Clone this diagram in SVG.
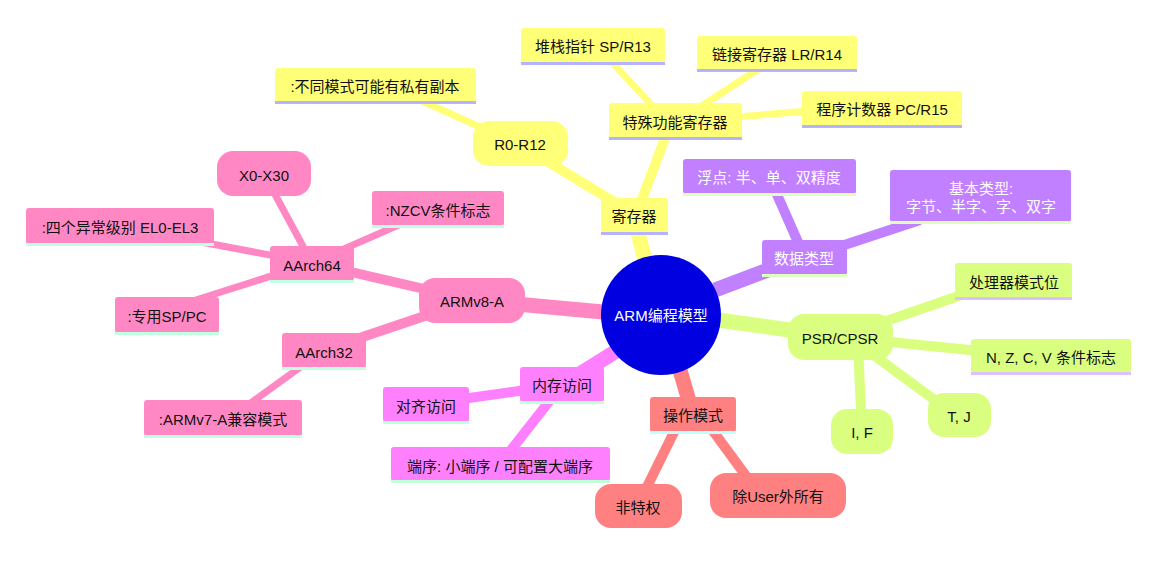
<svg xmlns="http://www.w3.org/2000/svg" width="1160" height="564" viewBox="0 0 1160 564">
<style>
text{font-family:"Liberation Sans","Noto Sans CJK SC",sans-serif;font-size:15px;text-anchor:middle;dominant-baseline:central;fill:#111}
.l{fill:none;stroke-linecap:butt}
.w1{stroke-width:15}.w2{stroke-width:10}.w3{stroke-width:7}
.y{fill:#ffff78}.yl{stroke:#ffff78}.yu{fill:#b3b3ff}
.p{fill:#c080ff}.pl{stroke:#c080ff}.pu{fill:#dfffbf}
.g{fill:#daff80}.gl{stroke:#daff80}.gu{fill:#dcc0ff}
.s{fill:#ff8080}.sl{stroke:#ff8080}.su{fill:#c0ffff}
.m{fill:#ff80ff}.ml{stroke:#ff80ff}.mu{fill:#c0ffd8}
.k{fill:#ff88c4}.kl{stroke:#ff88c4}.ku{fill:#c0ffe0}
.wt{fill:#fff}
</style>
<g id="connectors">
<line class="l w1 yl" x1="645" y1="260" x2="636" y2="225"/>
<line class="l w2 yl" x1="636" y1="215" x2="520" y2="145"/>
<line class="l w3 yl" x1="520" y1="145" x2="420" y2="100"/>
<line class="l w2 yl" x1="636" y1="215" x2="670" y2="125"/>
<line class="l w3 yl" x1="670" y1="125" x2="610" y2="60"/>
<line class="l w3 yl" x1="680" y1="120" x2="760" y2="68"/>
<line class="l w3 yl" x1="700" y1="120" x2="820" y2="110"/>
<line class="l w1 pl" x1="715" y1="290" x2="800" y2="258"/>
<line class="l w2 pl" x1="805" y1="258" x2="775" y2="190"/>
<line class="l w2 pl" x1="805" y1="258" x2="920" y2="220"/>
<line class="l w1 gl" x1="718" y1="320" x2="840" y2="337"/>
<line class="l w2 gl" x1="840" y1="337" x2="970" y2="292"/>
<line class="l w2 gl" x1="840" y1="337" x2="990" y2="352"/>
<line class="l w2 gl" x1="860" y1="345" x2="955" y2="415"/>
<line class="l w2 gl" x1="858" y1="345" x2="862" y2="432"/>
<line class="l w1 sl" x1="680" y1="370" x2="693" y2="415"/>
<line class="l w2 sl" x1="680" y1="420" x2="638" y2="505"/>
<line class="l w2 sl" x1="705" y1="420" x2="760" y2="495"/>
<line class="l w1 ml" x1="618" y1="350" x2="562" y2="385"/>
<line class="l w2 ml" x1="562" y1="385" x2="426" y2="404"/>
<line class="l w2 ml" x1="562" y1="385" x2="500" y2="464"/>
<line class="l w1 kl" x1="603" y1="312" x2="472" y2="300"/>
<line class="l w2 kl" x1="472" y1="300" x2="312" y2="263"/>
<line class="l w2 kl" x1="472" y1="300" x2="324" y2="350"/>
<line class="l w3 kl" x1="312" y1="263" x2="264" y2="174"/>
<line class="l w3 kl" x1="312" y1="263" x2="410" y2="220"/>
<line class="l w3 kl" x1="312" y1="263" x2="180" y2="238"/>
<line class="l w3 kl" x1="312" y1="263" x2="180" y2="305"/>
<line class="l w3 kl" x1="324" y1="350" x2="230" y2="418"/>
</g>
<g id="root"><circle cx="661" cy="315" r="60" fill="#0000e0"/><text x="661" y="315" class="wt">ARM编程模型</text></g>
<g id="reg"><rect class="y" x="601" y="198" width="67" height="35" rx="3"/><rect class="yu" x="601" y="232" width="67" height="3"/><text x="634" y="216">寄存器</text></g>
<g id="r0r12"><rect class="y" x="473" y="121" width="95" height="45" rx="16"/><text x="520" y="144">R0-R12</text></g>
<g id="priv"><rect class="y" x="275" y="68" width="201" height="34" rx="3"/><rect class="yu" x="275" y="101" width="201" height="3"/><text x="375" y="86">:不同模式可能有私有副本</text></g>
<g id="sfr"><rect class="y" x="609" y="103" width="133" height="35" rx="3"/><rect class="yu" x="609" y="137" width="133" height="3"/><text x="675" y="122">特殊功能寄存器</text></g>
<g id="sp"><rect class="y" x="521" y="28" width="144" height="35" rx="3"/><rect class="yu" x="521" y="62" width="144" height="3"/><text x="593" y="46">堆栈指针 SP/R13</text></g>
<g id="lr"><rect class="y" x="697" y="36" width="160" height="34" rx="3"/><rect class="yu" x="697" y="69" width="160" height="3"/><text x="777" y="54">链接寄存器 LR/R14</text></g>
<g id="pc"><rect class="y" x="802" y="91" width="160" height="35" rx="3"/><rect class="yu" x="802" y="125" width="160" height="3"/><text x="882" y="109">程序计数器 PC/R15</text></g>
<g id="dtype"><rect class="p" x="762" y="240" width="85" height="35" rx="3"/><rect class="pu" x="762" y="274" width="85" height="3"/><text x="804" y="258" class="wt">数据类型</text></g>
<g id="float"><rect class="p" x="683" y="159" width="173" height="35" rx="3"/><rect class="pu" x="683" y="193" width="173" height="3"/><text x="769" y="177" class="wt">浮点: 半、单、双精度</text></g>
<g id="basic"><rect class="p" x="890" y="170" width="181" height="52" rx="3"/><rect class="pu" x="890" y="221" width="181" height="3"/><text x="981" y="188" class="wt">基本类型:</text><text x="981" y="206" class="wt">字节、半字、字、双字</text></g>
<g id="psr"><rect class="g" x="788" y="314" width="105" height="46" rx="16"/><text x="840" y="338">PSR/CPSR</text></g>
<g id="mode"><rect class="g" x="955" y="263" width="117" height="35" rx="3"/><rect class="gu" x="955" y="297" width="117" height="3"/><text x="1014" y="282">处理器模式位</text></g>
<g id="nzcv"><rect class="g" x="971" y="339" width="160" height="34" rx="3"/><rect class="gu" x="971" y="372" width="160" height="3"/><text x="1051" y="357">N, Z, C, V 条件标志</text></g>
<g id="tj"><rect class="g" x="928" y="393" width="63" height="44" rx="16"/><text x="959" y="416">T, J</text></g>
<g id="if"><rect class="g" x="831" y="409" width="62" height="45" rx="16"/><text x="862" y="432">I, F</text></g>
<g id="opmode"><rect class="s" x="650" y="397" width="86" height="35" rx="3"/><rect class="su" x="650" y="431" width="86" height="3"/><text x="693" y="415">操作模式</text></g>
<g id="unpriv"><rect class="s" x="595" y="484" width="87" height="44" rx="16"/><text x="638" y="507">非特权</text></g>
<g id="alluser"><rect class="s" x="710" y="473" width="136" height="45" rx="16"/><text x="778" y="496">除User外所有</text></g>
<g id="mem"><rect class="m" x="520" y="367" width="84" height="35" rx="3"/><rect class="mu" x="520" y="401" width="84" height="3"/><text x="562" y="385">内存访问</text></g>
<g id="align"><rect class="m" x="383" y="387" width="86" height="35" rx="3"/><rect class="mu" x="383" y="421" width="86" height="3"/><text x="426" y="406">对齐访问</text></g>
<g id="endian"><rect class="m" x="391" y="447" width="219" height="34" rx="3"/><rect class="mu" x="391" y="480" width="219" height="3"/><text x="500" y="466">端序: 小端序 / 可配置大端序</text></g>
<g id="armv8"><rect class="k" x="419" y="278" width="106" height="45" rx="16"/><text x="472" y="301">ARMv8-A</text></g>
<g id="a64"><rect class="k" x="270" y="246" width="84" height="35" rx="3"/><rect class="ku" x="270" y="280" width="84" height="3"/><text x="312" y="265">AArch64</text></g>
<g id="x0"><rect class="k" x="217" y="151" width="94" height="45" rx="16"/><text x="264" y="175">X0-X30</text></g>
<g id="nzcvf"><rect class="k" x="372" y="191" width="132" height="35" rx="3"/><rect class="ku" x="372" y="225" width="132" height="3"/><text x="438" y="210">:NZCV条件标志</text></g>
<g id="el"><rect class="k" x="26" y="208" width="188" height="36" rx="3"/><rect class="ku" x="26" y="243" width="188" height="3"/><text x="120" y="227">:四个异常级别 EL0-EL3</text></g>
<g id="spc"><rect class="k" x="115" y="297" width="104" height="36" rx="3"/><rect class="ku" x="115" y="332" width="104" height="3"/><text x="167" y="316">:专用SP/PC</text></g>
<g id="a32"><rect class="k" x="282" y="333" width="84" height="35" rx="3"/><rect class="ku" x="282" y="367" width="84" height="3"/><text x="324" y="352">AArch32</text></g>
<g id="v7"><rect class="k" x="144" y="400" width="158" height="36" rx="3"/><rect class="ku" x="144" y="435" width="158" height="3"/><text x="223" y="419">:ARMv7-A兼容模式</text></g>
</svg>
